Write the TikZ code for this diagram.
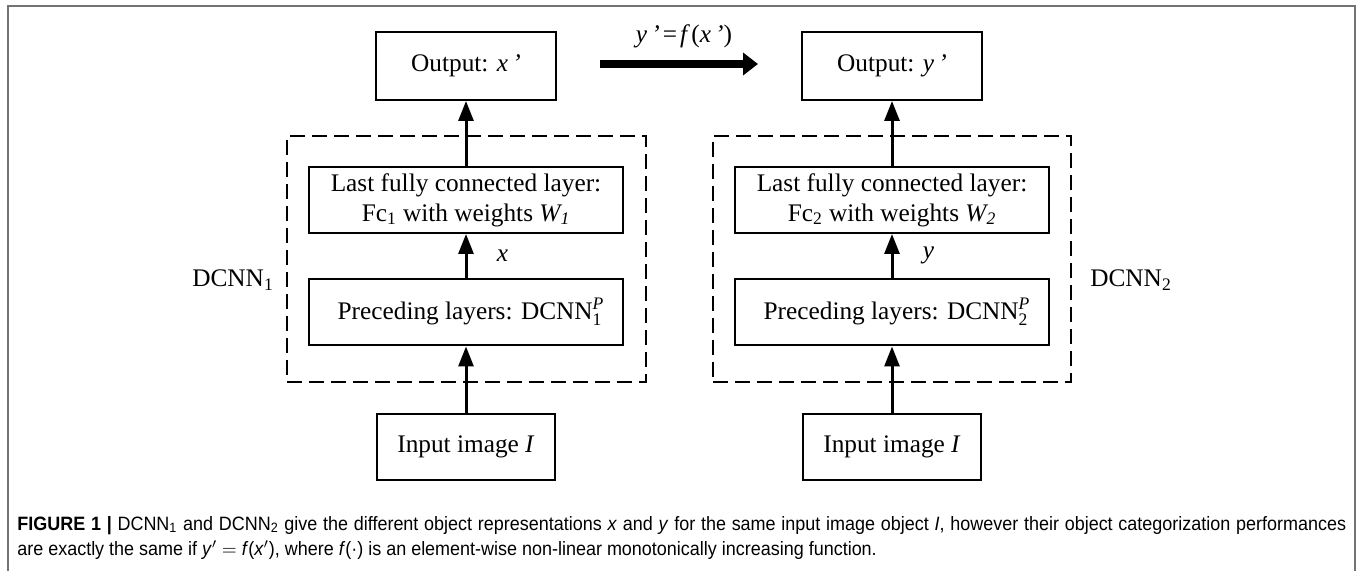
\documentclass[tikz,border=0pt]{standalone}
\usepackage{fontspec}
\usepackage{amsmath}
\setmainfont{Liberation Serif}
\newfontfamily\capfont[FakeStretch=0.93]{Liberation Sans}
\usetikzlibrary{arrows.meta,positioning}
\tikzstyle{block}=[rectangle, draw=black, line width=0.04cm, inner sep=0pt, align=center, font=\fontsize{14.4}{17}\selectfont]
\tikzstyle{group}=[rectangle, draw=black, line width=0.04cm, dash pattern=on 0.3cm off 0.14cm, inner sep=0pt]
\tikzstyle{netlabel}=[inner sep=1pt, font=\fontsize{14.4}{17}\selectfont]
\tikzstyle{flow}=[line width=0.06cm, -{Triangle[length=0.4cm, width=0.3cm]}]
\tikzstyle{caption}=[inner sep=0pt, anchor=base west, font=\capfont\fontsize{11}{13}\selectfont]
\newcommand{\prm}[1]{\textit{#1\,’}}
\newcommand{\dcnn}[1]{DCNN\textsubscript{#1}}

\begin{document}
\begin{tikzpicture}[x=0.02cm, y=-0.02cm]
	\useasboundingbox (0,0) rectangle (1363,571);
	
	% frame, open at the bottom
	\draw[black!55, line width=0.04cm] (8,571) -- (8,6) -- (1355,6) -- (1355,571);
	
	% first network
	\node[block, minimum width=3.62cm, minimum height=1.36cm] at (466,66) (out1) {Output: \prm{x}};
	\node[block, minimum width=6.28cm, minimum height=1.32cm] at (466,200) (fc1) {Last fully connected layer:\\Fc\textsubscript{1} with weights \textit{W\textsubscript{1}}};
	\node[block, minimum width=6.28cm, minimum height=1.34cm] at (466,312) (pre1) {\hspace*{0.2cm}Preceding layers: DCNN$^{\text{\itshape P}}_{\text{1}}$};
	\node[block, minimum width=3.58cm, minimum height=1.34cm] at (466,447) (in1) {Input image \textit{I}};
	\node[group, minimum width=7.18cm, minimum height=4.92cm] at (466.5,259) (net1) {};
	\node[netlabel] at (233,280) (name1) {\dcnn{1}};
	
	% second network
	\node[block, minimum width=3.62cm, minimum height=1.36cm] at (892,66) (out2) {Output: \prm{y}};
	\node[block, minimum width=6.28cm, minimum height=1.32cm] at (892,200) (fc2) {Last fully connected layer:\\Fc\textsubscript{2} with weights \textit{W\textsubscript{2}}};
	\node[block, minimum width=6.28cm, minimum height=1.34cm] at (892,312) (pre2) {\hspace*{0.2cm}Preceding layers: DCNN$^{\text{\itshape P}}_{\text{2}}$};
	\node[block, minimum width=3.58cm, minimum height=1.34cm] at (892,447) (in2) {Input image \textit{I}};
	\node[group, minimum width=7.16cm, minimum height=4.92cm] at (892,259) (net2) {};
	\node[netlabel] at (1131,280) (name2) {\dcnn{2}};
	
	\draw[flow] (in1) -- (pre1);
	\draw[flow] (pre1) -- node[netlabel, right, xshift=0.55cm]{\textit{x}} (fc1);
	\draw[flow] (fc1) -- (out1);
	\draw[flow] (in2) -- (pre2);
	\draw[flow] (pre2) -- node[netlabel, right, xshift=0.55cm]{\textit{y}} (fc2);
	\draw[flow] (fc2) -- (out2);
	
	% mapping between the outputs
	\coordinate (mapa) at (600,64);
	\coordinate (mapb) at (758,64);
	\draw[line width=0.16cm, -{Triangle[length=0.3cm, width=0.44cm]}] (mapa) -- (mapb);
	\node[netlabel] at (684,36) (map) {\prm{y}\kern0.12em=\kern0.12em\textit{f\,}(\prm{x})};
	
	% caption
	\node[caption] at (17,530) (cap1) {\makebox[26.58cm][s]{\textbf{FIGURE 1 |} \dcnn{1} and \dcnn{2} give the different object representations \textit{x} and \textit{y} for the same input image object \textit{I}, however their object categorization performances}};
	\node[caption] at (17,555) (cap2) {are exactly the same if \textit{y}$'$ $=$ \textit{f}(\textit{x}$'$), where \textit{f}(·) is an element-wise non-linear monotonically increasing function.};
	
\end{tikzpicture}
\end{document}
